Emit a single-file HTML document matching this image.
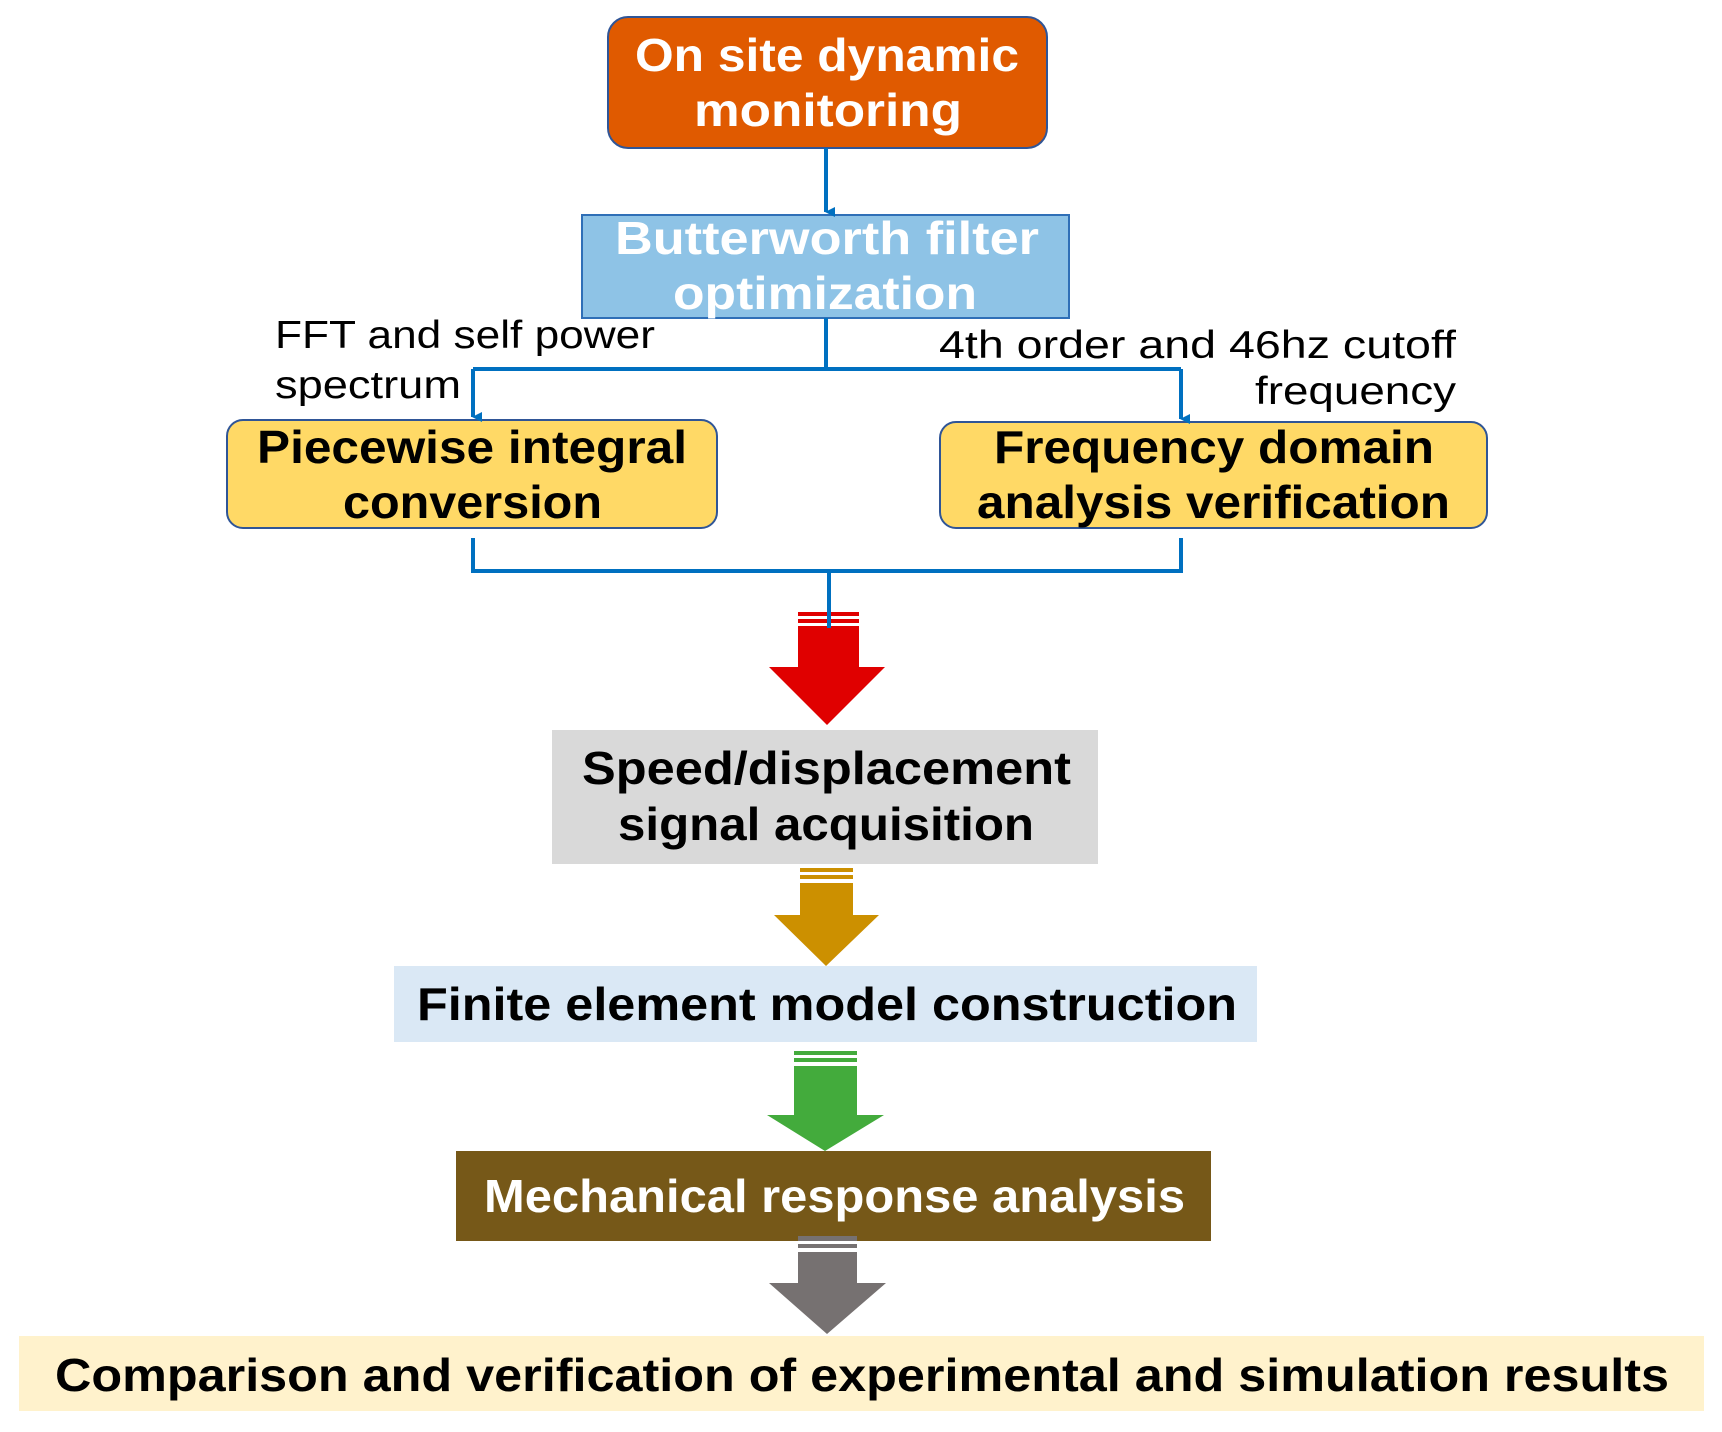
<!DOCTYPE html>
<html><head><meta charset="utf-8"><style>html,body{margin:0;padding:0;background:#fff}svg{display:block}</style></head>
<body>
<svg width="1722" height="1432" viewBox="0 0 1722 1432" xmlns="http://www.w3.org/2000/svg" font-family="Liberation Sans, sans-serif">
<defs>
<marker id="ah" markerWidth="10" markerHeight="10" refX="5" refY="9" orient="auto" markerUnits="userSpaceOnUse"><path d="M0,0 L10,0 L5,10 Z" fill="#0070c0"/></marker>
</defs>
<!-- boxes -->
<rect x="608" y="17" width="439" height="131" rx="20" fill="#e05a00" stroke="#2f5597" stroke-width="2"/>
<rect x="582" y="215" width="487" height="103" fill="#8ec3e6" stroke="#2f6fb7" stroke-width="2"/>
<rect x="227" y="420" width="490" height="108" rx="16" fill="#ffd966" stroke="#2f5597" stroke-width="2"/>
<rect x="940" y="422" width="547" height="106" rx="16" fill="#ffd966" stroke="#2f5597" stroke-width="2"/>
<rect x="552" y="730" width="546" height="134" fill="#d9d9d9"/>
<rect x="394" y="966" width="863" height="76" fill="#dae8f5"/>
<rect x="456" y="1151" width="755" height="90" fill="#765818"/>
<rect x="19" y="1336" width="1685" height="75" fill="#fff2cc"/>
<!-- connectors -->
<g stroke="#0070c0" stroke-width="4" fill="none">
<line x1="826" y1="148" x2="826" y2="212" marker-end="url(#ah)"/>
<line x1="826" y1="318" x2="826" y2="369"/>
<line x1="473" y1="369" x2="1181" y2="369"/>
<line x1="473" y1="369" x2="473" y2="417" marker-end="url(#ah)"/>
<line x1="1181" y1="369" x2="1181" y2="419" marker-end="url(#ah)"/>
<polyline points="473,538 473,571 1181,571 1181,538"/>
<line x1="829" y1="571" x2="829" y2="628"/>
</g>
<!-- block arrows -->
<g>
<rect x="798" y="612" width="61" height="4" fill="#e00000"/><rect x="798" y="619" width="61" height="4" fill="#e00000"/>
<path d="M798,626 H859 V667 H885 L827,725 L769,667 H798 Z" fill="#e00000"/>
<line x1="829" y1="571" x2="829" y2="628" stroke="#0070c0" stroke-width="4"/>
<rect x="800" y="868" width="53" height="4" fill="#cc9000"/><rect x="800" y="875" width="53" height="4" fill="#cc9000"/>
<path d="M800,883 H853 V915 H879 L826,966 L774,915 H800 Z" fill="#cc9000"/>
<rect x="794" y="1051" width="63" height="4" fill="#43ab3c"/><rect x="794" y="1058" width="63" height="4" fill="#43ab3c"/>
<path d="M794,1066 H857 V1115 H884 L825,1151 L767,1115 H794 Z" fill="#43ab3c"/>
<rect x="798" y="1236" width="59" height="5" fill="#767171"/><rect x="798" y="1244" width="59" height="4" fill="#767171"/>
<path d="M798,1252 H857 V1283 H886 L827,1334 L769,1283 H798 Z" fill="#767171"/>
</g>
<!-- text -->
<g font-weight="bold" font-size="46">
<text x="635" y="71" textLength="384" lengthAdjust="spacingAndGlyphs" fill="#fff">On site dynamic</text>
<text x="694" y="126" textLength="268" lengthAdjust="spacingAndGlyphs" fill="#fff">monitoring</text>
<text x="615" y="254" textLength="424" lengthAdjust="spacingAndGlyphs" fill="#fff">Butterworth filter</text>
<text x="673" y="309" textLength="304" lengthAdjust="spacingAndGlyphs" fill="#fff">optimization</text>
<text x="257" y="463" textLength="430" lengthAdjust="spacingAndGlyphs" fill="#000">Piecewise integral</text>
<text x="343" y="518" textLength="259" lengthAdjust="spacingAndGlyphs" fill="#000">conversion</text>
<text x="994" y="463" textLength="440" lengthAdjust="spacingAndGlyphs" fill="#000">Frequency domain</text>
<text x="977" y="518" textLength="473" lengthAdjust="spacingAndGlyphs" fill="#000">analysis verification</text>
<text x="582" y="784" textLength="489" lengthAdjust="spacingAndGlyphs" fill="#000">Speed/displacement</text>
<text x="618" y="840" textLength="416" lengthAdjust="spacingAndGlyphs" fill="#000">signal acquisition</text>
<text x="417" y="1020" textLength="820" lengthAdjust="spacingAndGlyphs" fill="#000">Finite element model construction</text>
<text x="484" y="1212" textLength="701" lengthAdjust="spacingAndGlyphs" fill="#fff">Mechanical response analysis</text>
<text x="55" y="1391" textLength="1614" lengthAdjust="spacingAndGlyphs" fill="#000">Comparison and verification of experimental and simulation results</text>
</g>
<g font-size="39" fill="#000">
<text x="275" y="348" textLength="380" lengthAdjust="spacingAndGlyphs">FFT and self power</text>
<text x="275" y="398" textLength="186" lengthAdjust="spacingAndGlyphs">spectrum</text>
<text x="939" y="358" textLength="517" lengthAdjust="spacingAndGlyphs">4th order and 46hz cutoff</text>
<text x="1255" y="404" textLength="201" lengthAdjust="spacingAndGlyphs">frequency</text>
</g>
</svg>
</body></html>
